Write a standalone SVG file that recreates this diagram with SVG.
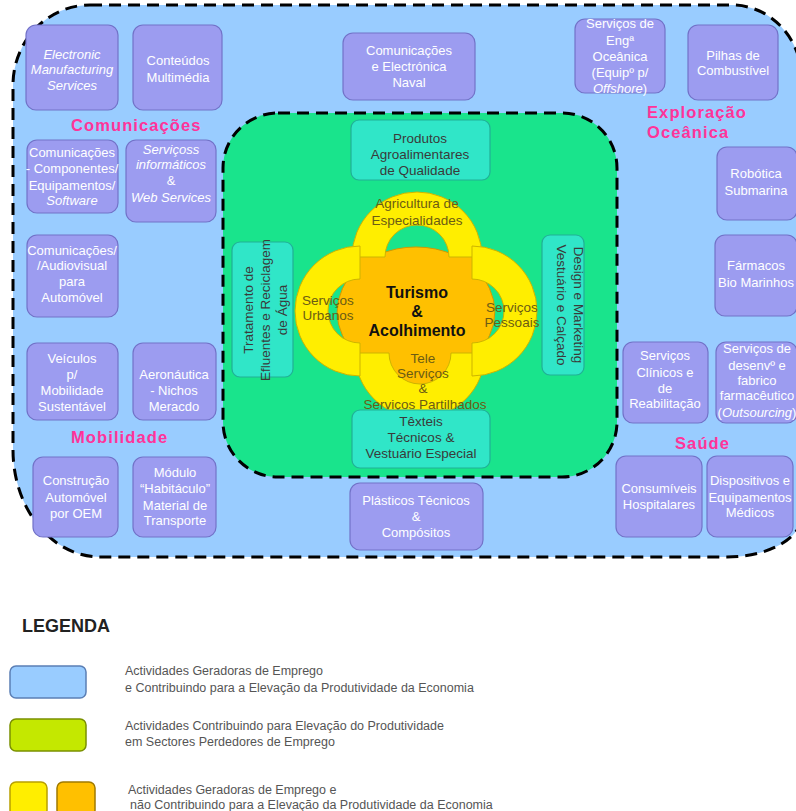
<svg xmlns="http://www.w3.org/2000/svg" width="796" height="811" viewBox="0 0 796 811">
<style>
text{font-family:"Liberation Sans",Arial,sans-serif}
.p rect{fill:#9c9cf0;stroke:#7272c8;stroke-width:1.2}
.p text{fill:#ffffff;font-size:13px;text-anchor:middle}
.t rect{fill:#30e6c8;stroke:#20b096;stroke-width:1.2}
.t text{fill:#3a3a3a;font-size:13.5px;text-anchor:middle}
.it{font-style:italic}
.cat{fill:#ff3399;font-size:16.5px;font-weight:bold;letter-spacing:1.1px}
.ring{fill:#ffee00;stroke:#cdb400;stroke-width:1}
.rt{fill:#6b5c14;font-size:13.5px;text-anchor:middle}
.dash{fill:none;stroke:#000;stroke-width:3;stroke-dasharray:12 7}
.lg{fill:#555;font-size:12.5px}
</style>
<g id="zone-blue">
<path d="M90,5 L732,5 A70,75 0 0 1 802,80 L802,515 A75,42 0 0 1 727,557 L100,557 A87,107 0 0 1 13,450 L13,85 A77,80 0 0 1 90,5 Z" fill="#99ccff"/>
<path class="dash" d="M90,5 L732,5 A70,75 0 0 1 802,80 L802,515 A75,42 0 0 1 727,557 L100,557 A87,107 0 0 1 13,450 L13,85 A77,80 0 0 1 90,5 Z"/>
</g>
<g id="zone-green">
<rect x="223" y="113" width="394" height="364" rx="55" fill="#19e48c"/>
<rect class="dash" x="223" y="113" width="394" height="364" rx="55"/>
</g>
<g id="labels">
<text class="cat" x="71" y="131">Comunicações</text>
<text class="cat" x="647" y="118">Exploração</text>
<text class="cat" x="647" y="138">Oceânica</text>
<text class="cat" x="71" y="443">Mobilidade</text>
<text class="cat" x="675" y="449">Saúde</text>
</g>
<g id="n-ems" class="p"><rect x="26" y="25" width="92" height="85" rx="10"/>
<text class="it" x="72" y="59">Electronic</text><text class="it" x="72" y="74">Manufacturing</text><text class="it" x="72" y="90">Services</text></g>
<g id="n-conteudos" class="p"><rect x="133" y="25" width="89" height="85" rx="10"/>
<text x="178" y="65">Conteúdos</text><text x="178" y="82">Multimédia</text></g>
<g id="n-naval" class="p"><rect x="343" y="33" width="132" height="67" rx="10"/>
<text x="409" y="55">Comunicações</text><text x="409" y="71">e Electrónica</text><text x="409" y="87">Naval</text></g>
<g id="n-eng" class="p"><rect x="575" y="19" width="90" height="74" rx="10"/>
<text x="620" y="28">Serviços de</text><text x="620" y="45">Engª</text><text x="620" y="61">Oceânica</text><text x="620" y="77">(Equipº p/</text><text x="620" y="93"><tspan class="it">Offshore</tspan>)</text></g>
<g id="n-pilhas" class="p"><rect x="688" y="25" width="90" height="75" rx="10"/>
<text x="733" y="60">Pilhas de</text><text x="733" y="75">Combustível</text></g>
<g id="n-comp" class="p"><rect x="27" y="140" width="91" height="73" rx="10"/>
<text x="72" y="157">Comunicações</text><text x="72" y="173">- Componentes/</text><text x="72" y="190">Equipamentos/</text><text class="it" x="72" y="205">Software</text></g>
<g id="n-info" class="p"><rect x="126" y="140" width="90" height="82" rx="10"/>
<text class="it" x="171" y="154">Serviçoss</text><text class="it" x="171" y="169">informáticos</text><text x="171" y="185">&amp;</text><text class="it" x="171" y="202">Web Services</text></g>
<g id="n-audio" class="p"><rect x="27" y="235" width="91" height="82" rx="10"/>
<text x="72" y="255">Comunicações/</text><text x="72" y="270">/Audiovisual</text><text x="72" y="286">para</text><text x="72" y="302">Automóvel</text></g>
<g id="n-robotica" class="p"><rect x="717" y="147" width="80" height="73" rx="10"/>
<text x="756" y="178">Robótica</text><text x="756" y="195">Submarina</text></g>
<g id="n-farmacos" class="p"><rect x="715" y="235" width="82" height="81" rx="10"/>
<text x="756" y="270">Fármacos</text><text x="756" y="287">Bio Marinhos</text></g>
<g id="n-veiculos" class="p"><rect x="27" y="343" width="91" height="77" rx="10"/>
<text x="72" y="363">Veículos</text><text x="72" y="379">p/</text><text x="72" y="395">Mobilidade</text><text x="72" y="411">Sustentável</text></g>
<g id="n-aero" class="p"><rect x="133" y="343" width="83" height="77" rx="10"/>
<text x="174" y="379">Aeronáutica</text><text x="174" y="395">- Nichos</text><text x="174" y="411">Meracdo</text></g>
<g id="n-clinicos" class="p"><rect x="623" y="342" width="85" height="81" rx="10"/>
<text x="665" y="360">Serviços</text><text x="665" y="377">Clínicos e</text><text x="665" y="393">de</text><text x="665" y="408">Reabilitação</text></g>
<g id="n-fabrico" class="p"><rect x="716" y="342" width="81" height="81" rx="10"/>
<text x="757" y="353">Serviços de</text><text x="757" y="370">desenvº e</text><text x="757" y="385" font-size="11">fabrico</text><text x="757" y="400">farmacêutico</text><text x="757" y="417">(<tspan class="it">Outsourcing</tspan>)</text></g>
<g id="n-oem" class="p"><rect x="33" y="457" width="85" height="80" rx="10"/>
<text x="76" y="485">Construção</text><text x="76" y="502">Automóvel</text><text x="76" y="518">por OEM</text></g>
<g id="n-modulo" class="p"><rect x="133" y="457" width="83" height="80" rx="10"/>
<text x="175" y="477">Módulo</text><text x="175" y="493">“Habitáculo”</text><text x="175" y="510">Material de</text><text x="175" y="525" font-size="12">Transporte</text></g>
<g id="n-plasticos" class="p"><rect x="350" y="483" width="133" height="67" rx="10"/>
<text x="416" y="505">Plásticos Técnicos</text><text x="416" y="521">&amp;</text><text x="416" y="537">Compósitos</text></g>
<g id="n-consumiveis" class="p"><rect x="616" y="456" width="86" height="81" rx="10"/>
<text x="659" y="493">Consumíveis</text><text x="659" y="509">Hospitalares</text></g>
<g id="n-dispositivos" class="p"><rect x="707" y="456" width="86" height="81" rx="10"/>
<text x="750" y="485">Dispositivos e</text><text x="750" y="502">Equipamentos</text><text x="750" y="517">Médicos</text></g>
<g id="n-produtos" class="t"><rect x="351" y="120" width="139" height="60" rx="8"/>
<text x="420" y="143">Produtos</text><text x="420" y="159">Agroalimentares</text><text x="420" y="175">de Qualidade</text></g>
<g id="n-tratamento" class="t"><rect x="232" y="242" width="61" height="135" rx="8"/>
<text transform="translate(253,310) rotate(-90)" x="0" y="0">Tratamento de</text>
<text transform="translate(270,310) rotate(-90)" x="0" y="0">Efluentes e Reciclagem</text>
<text transform="translate(287,310) rotate(-90)" x="0" y="0">de Água</text></g>
<g id="n-design" class="t"><rect x="542" y="235" width="42" height="140" rx="8"/>
<text transform="translate(574,305) rotate(90)" x="0" y="0">Design e Marketing</text>
<text transform="translate(557,305) rotate(90)" x="0" y="0">Vestuário e Calçado</text></g>
<g id="n-centre">
<path d="M358,360 L358,356 A79,65 0 0 1 358,268 L358,255 L378,255 A79,65 0 0 1 454,255 L474,255 L474,268 A79,65 0 0 1 474,356 L474,360 L468,388 L372,388 Z" fill="#ffc000" stroke="#d29a00" stroke-width="1"/>
</g>
<g id="n-agricultura"><path class="ring" d="M352,257 A65,65 0 0 1 482,257 L449,257 A32,32 0 0 0 385,257 Z"/>
<text class="rt" x="417" y="208">Agricultura de</text><text class="rt" x="417" y="225">Especialidades</text></g>
<g id="n-tele"><path class="ring" d="M355,353 A65,65 0 0 0 485,353 L451,353 A31,31 0 0 1 389,353 Z"/></g>
<g id="n-urbanos"><path class="ring" d="M360,246 A65,65 0 0 0 360,376 L360,343 A32,32 0 0 1 360,279 Z"/>
<text class="rt" x="328" y="305">Serviços</text><text class="rt" x="328" y="320">Urbanos</text></g>
<g id="n-pessoais"><path class="ring" d="M472,246 A65,65 0 0 1 472,376 L472,343 A32,32 0 0 0 472,279 Z"/>
<text class="rt" x="512" y="312">Serviços</text><text class="rt" x="512" y="327">Pessoais</text></g>
<g id="n-turismo">
<text x="417" y="298" font-size="16" font-weight="bold" text-anchor="middle" fill="#111">Turismo</text>
<text x="417" y="317" font-size="16" font-weight="bold" text-anchor="middle" fill="#111">&amp;</text>
<text x="417" y="336" font-size="16" font-weight="bold" text-anchor="middle" fill="#111">Acolhimento</text>
<text class="rt" x="423" y="363">Tele</text><text class="rt" x="423" y="378">Serviços</text><text class="rt" x="423" y="393">&amp;</text><text class="rt" x="425" y="409">Serviços Partilhados</text>
</g>
<g id="n-texteis" class="t"><rect x="352" y="410" width="138" height="58" rx="8"/>
<text x="421" y="426">Têxteis</text><text x="421" y="442">Técnicos &amp;</text><text x="421" y="458">Vestuário Especial</text></g>
<g id="legend">
<text x="22" y="632" font-size="18" font-weight="bold" fill="#222">LEGENDA</text>
<rect x="10" y="666" width="76" height="32" rx="6" fill="#99ccff" stroke="#5b7fb5" stroke-width="1.5"/>
<text class="lg" x="125" y="675">Actividades  Geradoras de Emprego</text>
<text class="lg" x="125" y="692">e Contribuindo para a Elevação da Produtividade da Economia</text>
<rect x="10" y="719" width="76" height="32" rx="6" fill="#c4e800" stroke="#7a9000" stroke-width="1.5"/>
<text class="lg" x="125" y="730">Actividades Contribuindo para Elevação do Produtividade</text>
<text class="lg" x="125" y="746">em Sectores Perdedores de Emprego</text>
<rect x="10" y="782" width="37" height="34" rx="6" fill="#ffee00" stroke="#b8a000" stroke-width="1.5"/>
<rect x="57" y="782" width="38" height="34" rx="6" fill="#ffc000" stroke="#a07a00" stroke-width="1.5"/>
<text class="lg" x="128" y="794">Actividades Geradoras de Emprego e</text>
<text class="lg" x="130" y="809"> não Contribuindo para a Elevação da Produtividade da Economia</text>
</g>
</svg>
